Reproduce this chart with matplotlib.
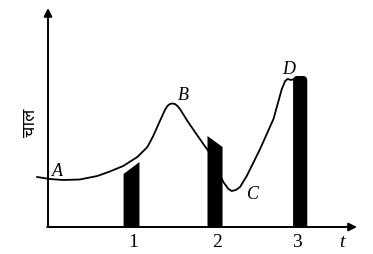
import numpy as np
import matplotlib.pyplot as plt

# curve points (t, speed)
curve_t = [-0.13, 0.02, 0.18, 0.38, 0.59, 0.74, 0.90, 1.07, 1.19, 1.26, 1.34,
           1.40, 1.43, 1.46, 1.49, 1.52, 1.55, 1.58, 1.67, 1.76, 1.86, 1.92,
           2.10, 2.16, 2.20, 2.25, 2.30, 2.38, 2.54, 2.70, 2.80, 2.84, 2.87,
           2.91, 2.95]
curve_v = [5.0, 4.8, 4.7, 4.75, 5.1, 5.55, 6.1, 7.0, 8.0, 9.1, 10.6,
           11.7, 12.1, 12.3, 12.35, 12.3, 12.1, 11.8, 10.6, 9.5, 8.3, 7.6,
           4.5, 3.8, 3.6, 3.7, 4.0, 5.1, 7.8, 10.8, 13.8, 14.6, 14.8,
           14.7, 14.8]

# black bars at t = 1, 2, 3 (top height at left and right edge)
bar_t = [1.0, 2.0, 3.02]
bar_top_left = [5.3, 9.1, 15.1]
bar_top_right = [6.5, 8.0, 15.1]
bar_w = [0.19, 0.18, 0.17]
bar_round = [False, False, True]

point_labels = ['A', 'B', 'C', 'D']
point_t = [0.11, 1.62, 2.46, 2.88]
point_v = [5.6, 13.3, 3.3, 15.8]

tick_t = [1.02, 2.02, 2.98]
tick_labels = ['1', '2', '3']

fig = plt.figure(figsize=(3.73, 2.55), dpi=100)
ax = fig.add_axes([0, 0, 1, 1])
ax.set_xlim(-0.575, 3.892)
ax.set_ylim(-2.7, 22.8)
ax.axis('off')

# curve
ax.plot(curve_t, curve_v, color='black', lw=1.3, zorder=2,
        solid_joinstyle='round')

# bars
for t, vl, vr, w, rnd in zip(bar_t, bar_top_left, bar_top_right, bar_w, bar_round):
    x0, x1 = t - w / 2, t + w / 2
    if rnd:
        rx, ry = 0.045, 0.45
        a = np.linspace(0, np.pi / 2, 10)
        xs = [x0] + list(x0 + rx - rx * np.cos(a)) + list(x1 - rx + rx * np.sin(a)) + [x1]
        ys = [0] + list(vl - ry + ry * np.sin(a)) + list(vr - ry + ry * np.cos(a)) + [0]
        ax.fill(xs, ys, color='black', zorder=3, lw=0)
    else:
        ax.fill([x0, x0, x1, x1], [0, vl, vr, 0], color='black', zorder=3, lw=0)

# axes with arrows
ax.annotate('', xy=(0, 21.9), xytext=(0, 0),
            arrowprops=dict(arrowstyle='-|>', color='black', lw=1.4,
                            mutation_scale=12, shrinkA=0, shrinkB=0))
ax.annotate('', xy=(3.70, 0), xytext=(-0.01, 0),
            arrowprops=dict(arrowstyle='-|>', color='black', lw=1.4,
                            mutation_scale=12, shrinkA=0, shrinkB=0))

serif = 'Liberation Serif'
for lab, t, v in zip(point_labels, point_t, point_v):
    ax.text(t, v, lab, fontsize=13, family=serif, style='italic',
            ha='center', va='center')

for t, lab in zip(tick_t, tick_labels):
    ax.text(t, -1.5, lab, fontsize=14, family=serif, ha='center', va='center')
ax.text(3.52, -1.5, 't', fontsize=14, family=serif, style='italic',
        ha='center', va='center')

ax.text(-0.22, 10.5, 'चाल', rotation=90, fontsize=13, ha='center', va='center',
        family=['Noto Sans Devanagari', 'Noto Sans', 'DejaVu Sans'])

plt.savefig('out.png', dpi=100)
